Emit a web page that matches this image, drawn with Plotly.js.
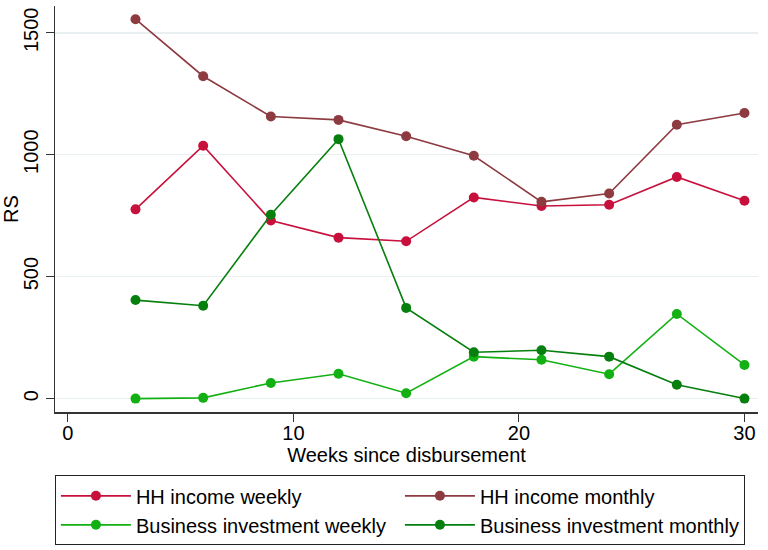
<!DOCTYPE html>
<html>
<head>
<meta charset="utf-8">
<script src="https://cdn.plot.ly/plotly-3.0.1.min.js"></script>
<style>html,body{margin:0;padding:0;background:#fff;}#chart{width:768px;height:550px;}</style>
</head>
<body>
<div id="chart"></div>
<script>
const weeks = [3, 6, 9, 12, 15, 18, 21, 24, 27, 30];
const hhIncomeWeekly = [776, 1037, 730, 660, 645, 825, 790, 795, 909, 811];
const hhIncomeMonthly = [1556, 1322, 1157, 1143, 1076, 996, 807, 841, 1123, 1171];
const bizInvWeekly = [0, 3, 64, 102, 22, 172, 159, 100, 347, 138];
const bizInvMonthly = [404, 381, 754, 1064, 372, 190, 198, 172, 57, 0];
const seriesNames = ["HH income weekly", "HH income monthly", "Business investment weekly", "Business investment monthly"];
const xTicks = [0, 10, 20, 30];
const yTicks = [0, 500, 1000, 1500];

const colors = ["#c8103c", "#8d3a40", "#12b012", "#067f0e"];
const font = "Liberation Sans, Arial, sans-serif";

function tr(y, i) {
  return {
    x: weeks, y: y, name: seriesNames[i], type: "scatter", mode: "lines+markers",
    line: {color: colors[i], width: 1.6},
    marker: {color: colors[i], size: 10}
  };
}

const data = [tr(hhIncomeWeekly, 0), tr(hhIncomeMonthly, 1), tr(bizInvWeekly, 2), tr(bizInvMonthly, 3)];

const layout = {
  width: 768, height: 550,
  margin: {l: 55, r: 10, t: 6, b: 138, autoexpand: false},
  paper_bgcolor: "#fff", plot_bgcolor: "#fff",
  font: {family: font, size: 20, color: "#000"},
  showlegend: true,
  xaxis: {
    range: [-0.57, 30.6], tickvals: xTicks, ticktext: xTicks.map(String),
    automargin: false,
    showgrid: false, zeroline: false, showline: true, linecolor: "#333", linewidth: 1.5,
    ticks: "outside", ticklen: 8, tickwidth: 1, tickcolor: "#333",
    ticklabelstandoff: -6,
    tickfont: {size: 20},
    title: {text: "Weeks since disbursement", font: {size: 20}, standoff: 0}
  },
  yaxis: {
    range: [-55, 1610], tickvals: yTicks, ticktext: yTicks.map(String),
    automargin: false,
    tickangle: -90,
    showgrid: true, gridcolor: "#e8f0f2", gridwidth: 1.5,
    zeroline: false, showline: true, linecolor: "#333", linewidth: 1.5,
    ticks: "outside", ticklen: 8, tickwidth: 1, tickcolor: "#333",
    tickfont: {size: 20},
    title: {text: "RS", font: {size: 20}, standoff: 5}
  },
  legend: {
    orientation: "h", x: -0.0001, xanchor: "left", y: -0.156, yanchor: "top",
    bordercolor: "#222", borderwidth: 1, bgcolor: "#fff",
    font: {size: 20}, itemwidth: 70, entrywidth: 259, entrywidthmode: "pixels",
    traceorder: "normal", tracegroupgap: 0
  }
};

Plotly.newPlot("chart", data, layout, {displayModeBar: false, staticPlot: true});
</script>
</body>
</html>
